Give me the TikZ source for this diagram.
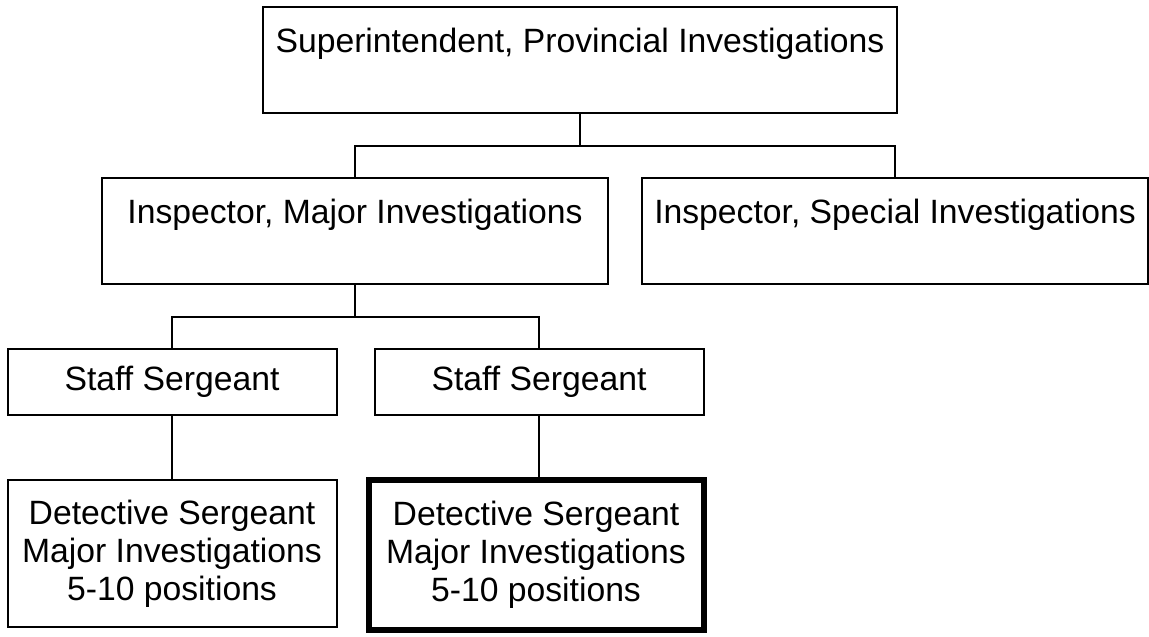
\documentclass[tikz,border=0pt]{standalone}
\usepackage{fontspec}
\setmainfont{Liberation Sans}
\usetikzlibrary{positioning}

\begin{document}
\begin{tikzpicture}[
  x=1pt, y=-1pt,
  o/.style={draw, line width=2pt, align=center, inner sep=0pt,
            font=\fontsize{33.7}{38}\selectfont},
  big/.style={o, minimum width=506pt, minimum height=106pt,
              text height=25pt, text depth=41pt},
  ss/.style={o, minimum width=329pt, minimum height=66pt},
  ds/.style={o, minimum width=329pt, minimum height=147pt},
  ln/.style={line width=2pt}
]
\useasboundingbox (0,0) rectangle (1149,637);
\node[big, minimum width=634pt] (sup) at (580,60)
  {Superintendent, Provincial Investigations};
\node[big] (imaj) at (355,231) {Inspector, Major Investigations};
\node[big] (ispec) at (895,231) {Inspector, Special Investigations};
\node[ss] (ss1) at (172,382) {Staff Sergeant};
\node[ss] (ss2) at (539,382) {Staff Sergeant};
\node[ds] (ds1) at (172,553.5)
  {Detective Sergeant\\Major Investigations\\5-10 positions};
\node[ds, line width=6pt, minimum width=335pt, minimum height=150pt] (ds2) at (536,555)
  {Detective Sergeant\\Major Investigations\\5-10 positions};
% connectors
\draw[ln] (sup.south) -- ++(0,32) -| (imaj.north);
\draw[ln] (sup.south) -- ++(0,32) -| (ispec.north);
\draw[ln] (imaj.south) -- ++(0,32) -| (ss1.north);
\draw[ln] (imaj.south) -- ++(0,32) -| (ss2.north);
\draw[ln] (ss1) -- (ds1);
\draw[ln] (ss2.south) -- (ss2.south |- ds2.north);
\end{tikzpicture}
\end{document}
